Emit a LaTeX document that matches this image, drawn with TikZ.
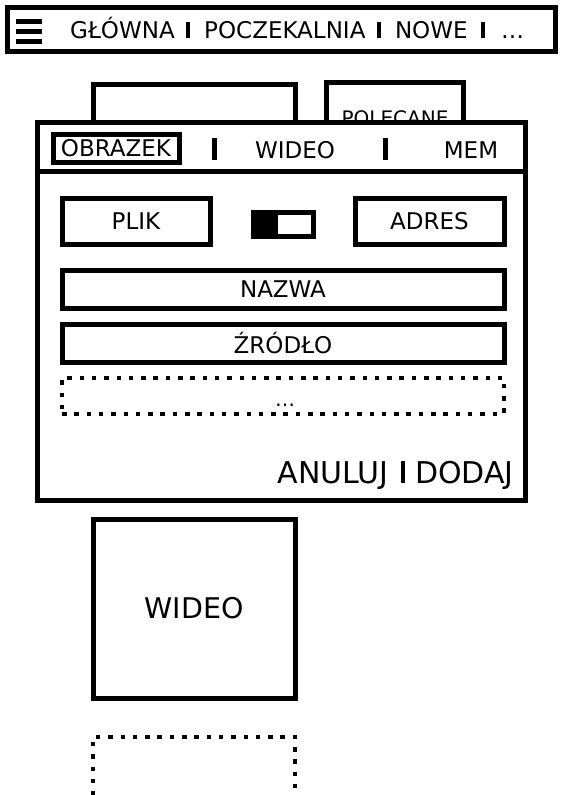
\documentclass[tikz,border=0pt]{standalone}
\usepackage{fontspec}
\setmainfont{DejaVu Sans}
\usetikzlibrary{positioning,calc}

\newcommand{\sepbar}[3]{\hspace{#1}\rule{4.5pt}{#2}\hspace{#3}}

\begin{document}
\begin{tikzpicture}[x=1pt, y=-1pt,
    box/.style={draw, rectangle, line width=5pt, inner sep=0pt, font=\fontsize{23}{27}\selectfont},
    dotbox/.style={draw, rectangle, line width=4.5pt, dash pattern=on 4.5pt off 7.8pt},
    bar/.style={fill, rectangle, inner sep=0pt, minimum width=5pt, minimum height=22pt},
    txt/.style={inner sep=0pt, anchor=base, font=\fontsize{23}{27}\selectfont}]
    \useasboundingbox (0,0) rectangle (562,795);
    \clip (0,0) rectangle (562,795);

    % top menu
    \node (topbar) [box, minimum width=548pt, minimum height=44pt] at (281,29) {};
    \foreach \y in {21,31,41}
        \draw [line width=5pt] (16,\y) -- (42,\y);
    \node (menu) [txt, anchor=base west] at (70,38) {GŁÓWNA\sepbar{11pt}{16.5pt}{14pt}POCZEKALNIA\sepbar{11pt}{16.5pt}{14pt}NOWE\sepbar{13pt}{16.5pt}{16pt}…};

    % tabs behind the panel
    \node (backtab) [box, minimum width=202pt, minimum height=60pt] at (194,114) {};
    \node (polecane) [box, minimum width=137pt, minimum height=60pt] at (394.5,112) {};
    \node (polecanetxt) [txt, font=\fontsize{20}{24}\selectfont] at (395,125) {POLECANE};

    % add panel
    \node (panel) [box, fill=white, minimum width=488pt, minimum height=378pt] at (281,311) {};
    \draw [line width=5pt] ($(panel.north west)+(0,52)$) -- ($(panel.north east)+(0,52)$);
    \node (obrazek) [box, minimum width=126pt, minimum height=28pt] at (116,148) {OBRAZEK};
    \node (sepa) [bar] at (214,149) {};
    \node (wideotab) [txt] at (295,158) {WIDEO};
    \node (sepb) [bar] at (385,149) {};
    \node (mem) [txt] at (471,158) {MEM};

    \node (plik) [box, minimum width=148pt, minimum height=46pt] at (136,221) {PLIK};
    \node (toggle) [box, minimum width=60pt, minimum height=24pt] at (283,224) {};
    \fill (toggle.north west) rectangle ($(toggle.south)+(-5,0)$);
    \node (adres) [box, minimum width=149pt, minimum height=46pt] at (429.5,221) {ADRES};

    \node (nazwa) [box, minimum width=442pt, minimum height=38pt] at (283,289) {NAZWA};
    \node (zrodlo) [box, minimum width=442pt, minimum height=38pt, below=11pt of nazwa] {ŹRÓDŁO};
    \node (inne) [dotbox, minimum width=442pt, minimum height=36pt, below=11pt of zrodlo] {};
    \node (innetxt) [txt, font=\fontsize{20}{24}\selectfont] at (285,406) {…};

    \node (akcje) [txt, anchor=base east, font=\fontsize{30}{35}\selectfont] at (514,483) {ANULUJ\sepbar{12pt}{22pt}{10pt}DODAJ};

    % content below
    \node (wideo) [box, minimum width=202pt, minimum height=179pt, font=\fontsize{28.5}{33}\selectfont] at (194,608.5) {WIDEO};
    \node (next) [dotbox, minimum width=202pt, minimum height=120pt] at (194,797) {};

\end{tikzpicture}
\end{document}
